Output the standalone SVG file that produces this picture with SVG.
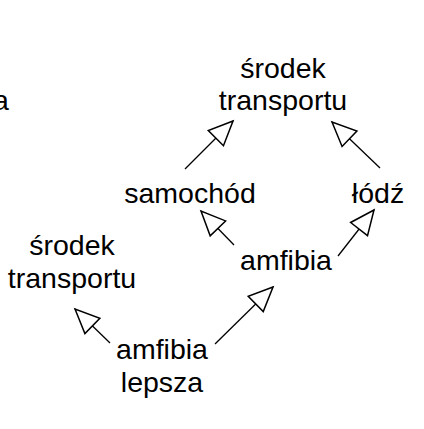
<svg xmlns="http://www.w3.org/2000/svg" width="424" height="429" viewBox="0 0 424 429">
<style>
text{font-family:"Liberation Sans",Arial,sans-serif;font-size:28.5px;fill:#000;text-anchor:middle}
.e{stroke:#000;stroke-width:1.3;fill:none;marker-end:url(#ah)}
</style>
<defs>
<marker id="ah" markerUnits="userSpaceOnUse" markerWidth="30" markerHeight="30" viewBox="-24 -12 26 24" refX="0" refY="0" orient="auto">
<path d="M0,0 L-21,-9.3 L-21,9.3 Z" fill="#fff" stroke="#000" stroke-width="1.3" stroke-linejoin="miter"/>
</marker>
</defs>
<rect width="424" height="429" fill="#fff"/>
<g id="clipped"><text x="-7" y="110" style="text-anchor:start">a</text></g>
<g id="srodek1"><text x="283" y="78">środek</text><text x="283" y="110">transportu</text></g>
<g id="samochod"><text x="190" y="203">samochód</text></g>
<g id="lodz"><text x="378" y="203">łódź</text></g>
<g id="amfibia"><text x="286" y="270">amfibia</text></g>
<g id="srodek2"><text x="72" y="255">środek</text><text x="72" y="288">transportu</text></g>
<g id="amfibia_lepsza"><text x="162" y="359">amfibia</text><text x="162" y="392">lepsza</text></g>
<g id="connectors">
<line class="e" x1="185" y1="169" x2="233" y2="121"/>
<line class="e" x1="380" y1="168" x2="332" y2="122"/>
<line class="e" x1="234" y1="245" x2="201" y2="211"/>
<line class="e" x1="338" y1="256" x2="374" y2="210"/>
<line class="e" x1="215" y1="344" x2="273" y2="287"/>
<line class="e" x1="110" y1="343" x2="75" y2="309"/>
</g>
</svg>
